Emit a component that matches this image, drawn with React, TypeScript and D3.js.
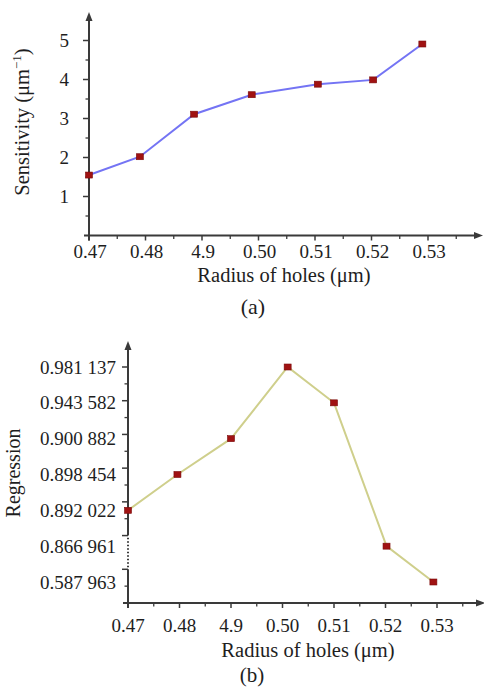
import React from "react";
import * as d3 from "d3";

// ---- Data (a): sensitivity vs radius ----
const radiusA = [0.47, 0.479, 0.4886, 0.4988, 0.5105, 0.5203, 0.529];
const sensitivity = [1.55, 2.02, 3.11, 3.61, 3.88, 3.99, 4.91];
const sensTicks = [1, 2, 3, 4, 5];

// ---- Data (b): regression vs radius ----
const radiusB = [0.47, 0.4796, 0.49, 0.501, 0.51, 0.5202, 0.5293];
const regression = [0.892022, 0.898454, 0.900882, 0.981137, 0.943582, 0.866961, 0.587963];
const regTickLabels = ["0.587 963", "0.866 961", "0.892 022", "0.898 454", "0.900 882", "0.943 582", "0.981 137"];
const regTickValues = [0.587963, 0.866961, 0.892022, 0.898454, 0.900882, 0.943582, 0.981137];

// shared x ticks
const xTickValues = [0.47, 0.48, 0.49, 0.5, 0.51, 0.52, 0.53];
const xTickLabels = ["0.47", "0.48", "4.9", "0.50", "0.51", "0.52", "0.53"];
const xMinorValues = [0.475, 0.485, 0.495, 0.505, 0.515, 0.525, 0.535];

const FONT = "Liberation Serif, Times New Roman, Times, DejaVu Serif, serif";
const AXIS = "#3a3a3a";
const TEXT = "#1e1e1e";
const MARK = "#a01212";

function T(props: any) {
  const { size, children, ...rest } = props;
  return (
    <text {...rest} fill={TEXT} style={{ fontFamily: FONT, fontSize: size + "px" }}>
      {children}
    </text>
  );
}

function Marker({ x, y }: { x: number; y: number }) {
  return <rect x={x - 3.5} y={y - 3} width={7} height={6} fill={MARK} stroke="#7a0a0a" strokeWidth={0.6} />;
}

function PanelA() {
  const x0 = 89;
  const yBase = 235.5;
  const x = d3.scaleLinear().domain([0.47, 0.53]).range([89, 428]);
  const y = d3.scaleLinear().domain([0, 5]).range([235.5, 40.5]);
  const line = d3
    .line<number>()
    .x((_, i) => x(radiusA[i]))
    .y((d) => y(d));
  const yMinor = d3.range(0.5, 5, 1);
  return (
    <g>
      <line x1={x0} x2={x0} y1={yBase + 5} y2={18} stroke={AXIS} strokeWidth={2} />
      <path d={`M${x0},12 L${x0 - 3.5},21 L${x0 + 3.5},21 Z`} fill={AXIS} />
      <line x1={x0 - 5} x2={476} y1={yBase} y2={yBase} stroke={AXIS} strokeWidth={2} />
      <path d={`M483,${yBase} L474,${yBase - 3.5} L474,${yBase + 3.5} Z`} fill={AXIS} />
      {sensTicks.map((t) => (
        <g key={"ya" + t}>
          <line x1={x0 - 6} x2={x0} y1={y(t)} y2={y(t)} stroke={AXIS} strokeWidth={1.5} />
          <T x={69} y={y(t)} dy="0.35em" textAnchor="end" size={19}>
            {t}
          </T>
        </g>
      ))}
      {yMinor.map((t) => (
        <line key={"yam" + t} x1={x0 - 3.5} x2={x0} y1={y(t)} y2={y(t)} stroke={AXIS} strokeWidth={1.3} />
      ))}
      {xTickValues.map((t, i) => (
        <g key={"xa" + t}>
          <line x1={x(t)} x2={x(t)} y1={yBase} y2={yBase + 5} stroke={AXIS} strokeWidth={1.5} />
          <T x={x(t) + 1} y={258} textAnchor="middle" size={19}>
            {xTickLabels[i]}
          </T>
        </g>
      ))}
      {xMinorValues.map((t) => (
        <line key={"xam" + t} x1={x(t)} x2={x(t)} y1={yBase} y2={yBase + 3.5} stroke={AXIS} strokeWidth={1.3} />
      ))}
      <path d={line(sensitivity) || ""} fill="none" stroke="#7474f4" strokeWidth={2} />
      {sensitivity.map((v, i) => (
        <Marker key={"ma" + i} x={x(radiusA[i])} y={y(v)} />
      ))}
      <T x={284} y={282} textAnchor="middle" size={20.5}>
        Radius of holes (μm)
      </T>
      <T transform="translate(29,122) rotate(-90)" textAnchor="middle" size={20.5}>
        Sensitivity (μm
        <tspan style={{ fontSize: "13px" }} dy={-8}>−1</tspan>
        <tspan dy={8}>)</tspan>
      </T>
      <T x={253} y={314} textAnchor="middle" size={22}>
        (a)
      </T>
    </g>
  );
}

function PanelB() {
  const x0 = 128;
  const yBase = 603;
  const x = d3.scaleLinear().domain([0.47, 0.53]).range([128, 437]);
  const tickY = d3.scaleLinear().domain([0, 7]).range([603, 367]);
  const n = regTickValues.length;
  const labelPos = d3.scalePoint<string>().domain(regTickLabels).range([582, 367]);
  const y = d3
    .scaleLinear()
    .domain(regTickValues)
    .range(regTickLabels.map((l) => labelPos(l) as number));
  const line = d3
    .line<number>()
    .x((_, i) => x(radiusB[i]))
    .y((d) => y(d));
  const majors = d3.range(1, n + 1);
  const minors = [0.5, 2.5, 3.5, 4.5, 5.5, 6.5];
  return (
    <g>
      <line x1={x0} x2={x0} y1={yBase + 5} y2={tickY(1)} stroke={AXIS} strokeWidth={2} />
      <line x1={x0} x2={x0} y1={tickY(1) - 2} y2={tickY(2) + 2} stroke={AXIS} strokeWidth={2} strokeDasharray="1.5,2" />
      <line x1={x0} x2={x0} y1={tickY(2)} y2={347} stroke={AXIS} strokeWidth={2} />
      <path d={`M${x0},341 L${x0 - 3.5},350 L${x0 + 3.5},350 Z`} fill={AXIS} />
      <line x1={x0 - 5} x2={478} y1={yBase} y2={yBase} stroke={AXIS} strokeWidth={2} />
      <path d={`M485,${yBase} L476,${yBase - 3.5} L476,${yBase + 3.5} Z`} fill={AXIS} />
      {majors.map((t) => (
        <line key={"yb" + t} x1={x0 - 6} x2={x0} y1={tickY(t)} y2={tickY(t)} stroke={AXIS} strokeWidth={1.5} />
      ))}
      {minors.map((t) => (
        <line key={"ybm" + t} x1={x0 - 3.5} x2={x0} y1={tickY(t)} y2={tickY(t)} stroke={AXIS} strokeWidth={1.3} />
      ))}
      {regTickLabels.map((l) => (
        <T key={l} x={116} y={labelPos(l)} dy="0.35em" textAnchor="end" size={19}>
          {l}
        </T>
      ))}
      {xTickValues.map((t, i) => (
        <g key={"xb" + t}>
          <line x1={x(t)} x2={x(t)} y1={yBase} y2={yBase + 5} stroke={AXIS} strokeWidth={1.5} />
          <T x={x(t)} y={632} textAnchor="middle" size={19}>
            {xTickLabels[i]}
          </T>
        </g>
      ))}
      {xMinorValues.map((t) => (
        <line key={"xbm" + t} x1={x(t)} x2={x(t)} y1={yBase} y2={yBase + 3.5} stroke={AXIS} strokeWidth={1.3} />
      ))}
      <path d={line(regression) || ""} fill="none" stroke="#cfcf8c" strokeWidth={2} />
      {regression.map((v, i) => (
        <Marker key={"mb" + i} x={x(radiusB[i])} y={y(v)} />
      ))}
      <T x={308} y={657} textAnchor="middle" size={20.5}>
        Radius of holes (μm)
      </T>
      <T transform="translate(20,473) rotate(-90)" textAnchor="middle" size={20}>
        Regression
      </T>
      <T x={252} y={682} textAnchor="middle" size={21}>
        (b)
      </T>
    </g>
  );
}

export default function App() {
  return (
    <svg
      width={484}
      height={695}
      viewBox="0 0 484 695"
      style={{ position: "absolute", left: 0, top: 0, background: "#fff" }}
    >
      <rect width={484} height={695} fill="#fff" />
      <PanelA />
      <PanelB />
    </svg>
  );
}
